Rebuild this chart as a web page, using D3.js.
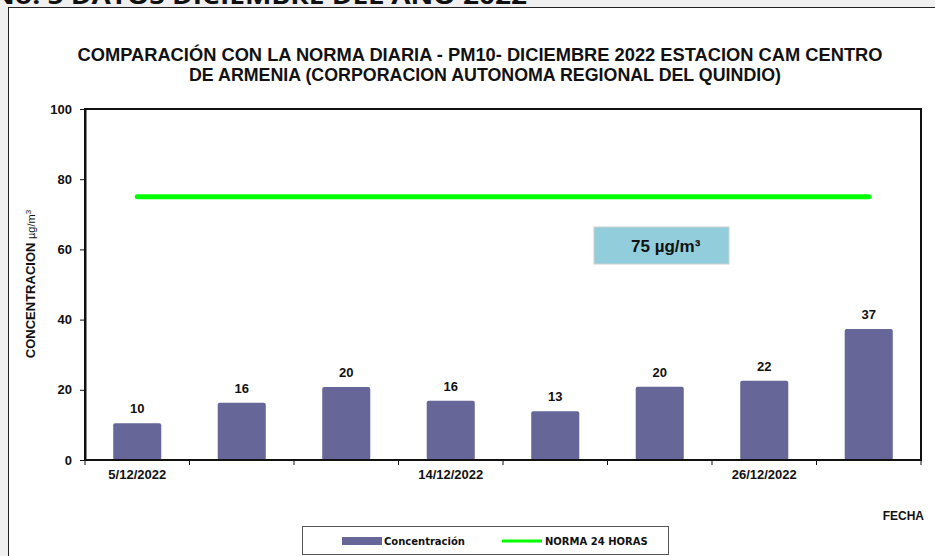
<!DOCTYPE html>
<html><head><meta charset="utf-8">
<script src="https://cdn.jsdelivr.net/npm/d3@7"></script>
<style>
html,body{margin:0;padding:0;background:#f0f0f0;}
svg{display:block;}
</style></head>
<body>
<svg id="c" width="935" height="556"></svg>
<script>
const categories = ["5/12/2022","8/12/2022","11/12/2022","14/12/2022","17/12/2022","20/12/2022","26/12/2022","29/12/2022"];
const concentracion = [10.5, 16.3, 20.8, 16.9, 13.9, 20.9, 22.6, 37.3];
const norma = [75, 75, 75, 75, 75, 75, 75, 75];
const shownLabels = ["5/12/2022","14/12/2022","26/12/2022"];
const yTicks = [0, 20, 40, 60, 80, 100];
const titleLines = ["COMPARACIÓN CON LA NORMA DIARIA - PM10- DICIEMBRE 2022 ESTACION CAM CENTRO",
                    "DE ARMENIA (CORPORACION AUTONOMA REGIONAL DEL QUINDIO)"];
const headerText = "No. 5 DATOS DICIEMBRE DEL AÑO 2022";
const normaLabel = "75 µg/m³";

const svg = d3.select("#c");
const W = 935, H = 556;
const plot = {l: 85, r: 921, t: 109, b: 460};

// background + header
svg.append("rect").attr("x",0).attr("y",0).attr("width",W).attr("height",H).attr("fill","#f0f0f0");
svg.append("text").attr("x",-8).attr("y",4).attr("font-family","'Open Sans', 'DejaVu Sans', sans-serif")
  .attr("font-weight","bold").attr("font-size",24).attr("fill","#111")
  .attr("textLength",535).attr("lengthAdjust","spacingAndGlyphs").text(headerText);

// chart area
svg.append("rect").attr("x",8.5).attr("y",7.5).attr("width",W+10).attr("height",H+10)
  .attr("fill","#fff").attr("stroke","#222").attr("stroke-width",1);

// title
const tf = "'Liberation Sans Narrow','Arial Narrow','Liberation Sans',sans-serif";
svg.append("text").attr("x",480).attr("y",61).attr("text-anchor","middle")
  .attr("font-family",tf).attr("font-weight","bold").attr("font-size",17.5).attr("fill","#111")
  .attr("textLength",805).attr("lengthAdjust","spacingAndGlyphs").text(titleLines[0]);
svg.append("text").attr("x",485).attr("y",81).attr("text-anchor","middle")
  .attr("font-family",tf).attr("font-weight","bold").attr("font-size",17.5).attr("fill","#111")
  .attr("textLength",592).attr("lengthAdjust","spacingAndGlyphs").text(titleLines[1]);

const x = d3.scaleBand().domain(categories).range([plot.l, plot.r]).paddingInner(0.54).paddingOuter(0.27);
const y = d3.scaleLinear().domain([0,100]).range([plot.b, plot.t]);

const af = "'Liberation Sans', Arial, sans-serif";

// bars
svg.append("g").selectAll("rect").data(concentracion).join("rect")
  .attr("x",(d,i)=>x(categories[i])).attr("y",d=>y(d))
  .attr("width",x.bandwidth()).attr("height",d=>y(0)-y(d))
  .attr("rx",2).attr("fill","#666699");

// value labels
svg.append("g").selectAll("text").data(concentracion).join("text")
  .attr("x",(d,i)=>x(categories[i])+x.bandwidth()/2).attr("y",d=>y(d)-10)
  .attr("text-anchor","middle").attr("font-family",af).attr("font-weight","bold")
  .attr("font-size",13).attr("fill","#111").text(d=>Math.trunc(d));

// plot frame
svg.append("rect").attr("x",plot.l).attr("y",plot.t).attr("width",plot.r-plot.l).attr("height",plot.b-plot.t)
  .attr("fill","none").attr("stroke","#111").attr("stroke-width",2);

// y axis
const yAxis = svg.append("g").attr("transform",`translate(${plot.l},0)`)
  .call(d3.axisLeft(y).tickValues(yTicks).tickSize(5).tickPadding(8).tickSizeOuter(0));
yAxis.select(".domain").attr("stroke","#111").attr("stroke-width",2);
yAxis.selectAll(".tick line").attr("stroke","#111");
yAxis.selectAll(".tick text").attr("font-family",af).attr("font-weight","bold").attr("font-size",13).attr("fill","#111");

// x axis: boundary ticks
const bounds = categories.map(c=>x(c)+x.bandwidth()/2-x.step()/2).concat([plot.r]);
svg.append("g").selectAll("line").data(bounds).join("line")
  .attr("x1",d=>d).attr("x2",d=>d).attr("y1",plot.b).attr("y2",plot.b+5)
  .attr("stroke","#111").attr("stroke-width",1);
const xAxis = svg.append("g").attr("transform",`translate(0,${plot.b})`)
  .call(d3.axisBottom(x).tickSize(0).tickPadding(10).tickFormat(d=>shownLabels.includes(d)?d:""));
xAxis.select(".domain").remove();
xAxis.selectAll(".tick text").attr("font-family",af).attr("font-weight","bold").attr("font-size",13).attr("fill","#111");

// norma line
const line = d3.line().x((d,i)=>x(categories[i])+x.bandwidth()/2).y(d=>y(d));
svg.append("path").datum(norma).attr("d",line).attr("fill","none")
  .attr("stroke","#00ff00").attr("stroke-width",5).attr("stroke-linecap","round");

// annotation box
svg.append("rect").attr("x",594).attr("y",227).attr("width",135).attr("height",37)
  .attr("fill","#92cddc").attr("stroke","#d0d0d0").attr("stroke-width",1);
svg.append("text").attr("x",631).attr("y",252).attr("font-family",af).attr("font-weight","bold")
  .attr("font-size",17).attr("fill","#111").text(normaLabel);

// y axis title
const yt = svg.append("text").attr("transform","translate(35,284) rotate(-90)").attr("text-anchor","middle")
  .attr("font-family",af).attr("fill","#111");
yt.append("tspan").attr("font-weight","bold").attr("font-size",13).text("CONCENTRACION ");
yt.append("tspan").attr("font-size",11).text("µg/m");
yt.append("tspan").attr("font-size",8).attr("dy",-4).text("3");

// x axis title
svg.append("text").attr("x",924).attr("y",520).attr("text-anchor","end")
  .attr("font-family",af).attr("font-weight","bold").attr("font-size",12).attr("fill","#111").text("FECHA");

// legend
svg.append("rect").attr("x",302.5).attr("y",526.5).attr("width",366).attr("height",28)
  .attr("fill","#fff").attr("stroke","#555").attr("stroke-width",1);
svg.append("rect").attr("x",342).attr("y",537).attr("width",40).attr("height",8).attr("fill","#666699");
svg.append("text").attr("x",384).attr("y",545).attr("font-family","Tahoma,'DejaVu Sans',sans-serif")
  .attr("font-size",10).attr("fill","#111").attr("font-weight","bold").text("Concentración");
svg.append("line").attr("x1",502).attr("x2",542).attr("y1",541).attr("y2",541)
  .attr("stroke","#00ff00").attr("stroke-width",3);
svg.append("text").attr("x",545).attr("y",545).attr("font-family","Tahoma,'DejaVu Sans',sans-serif")
  .attr("font-size",10).attr("fill","#111").attr("font-weight","bold").text("NORMA 24 HORAS");
</script>
</body></html>
